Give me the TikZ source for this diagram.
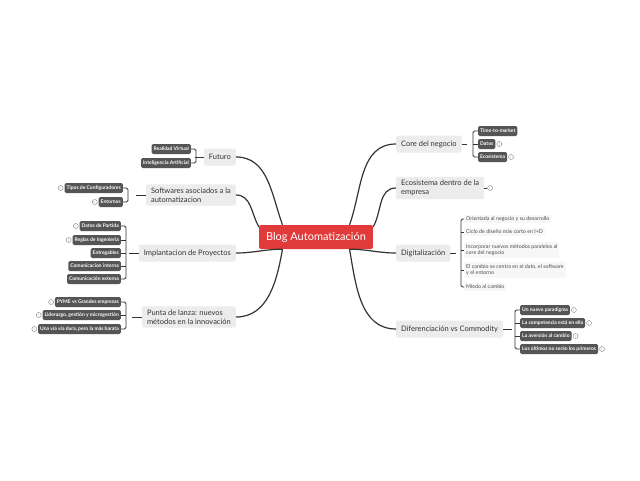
\documentclass[tikz,border=0pt]{standalone}
\usepackage{fontspec}
\setmainfont{Lato}
\usetikzlibrary{positioning}
\definecolor{redbox}{HTML}{E03A3A}
\definecolor{topicbg}{HTML}{ECECEC}
\definecolor{subbg}{HTML}{555555}
\definecolor{linec}{HTML}{333333}
\tikzset{
  central/.style={fill=redbox,text=white,rounded corners=2pt,font=\fontsize{11}{12}\selectfont,minimum height=24pt,inner xsep=7pt},
  topic/.style={fill=topicbg,rounded corners=2pt,font=\fontsize{7.5}{9}\selectfont,align=left,inner xsep=5pt,minimum height=17pt,text=black!80},
  sub/.style={fill=subbg,text=white,rounded corners=1.5pt,font=\fontsize{5}{5.5}\selectfont\bfseries,inner sep=2pt,minimum height=10pt},
  plain/.style={fill=black!3,font=\fontsize{5.3}{6.5}\selectfont,align=left,inner sep=2pt,text=black!70},
  info/.style={circle,draw=black!50,fill=white,inner sep=0pt,minimum size=5pt,font=\fontsize{3}{3}\selectfont,text=black!50},
  branch/.style={draw=linec,line width=1.2pt},
  twig/.style={draw=linec,line width=0.8pt,rounded corners=1.5pt}
}
\begin{document}
\begin{tikzpicture}[x=1pt,y=-1pt]
\useasboundingbox[fill=white] (0,0) rectangle (640,480);
% central
\node[central] (blog) at (316,237) {Blog Automatización};
% left topics
\node[topic,anchor=east] (fut) at (236,157) {Futuro};
\node[topic,anchor=east] (soft) at (236,195) {Softwares asociados a la\\automatizacion};
\node[topic,anchor=east] (impl) at (236,253) {Implantacion de Proyectos};
\node[topic,anchor=east] (punta) at (236,317) {Punta de lanza: nuevos\\métodos en la innovación};
% right topics
\node[topic,anchor=west] (core) at (396,144) {Core del negocio};
\node[topic,anchor=west] (eco) at (396,188) {Ecosistema dentro de la\\empresa};
\node[topic,anchor=west] (digi) at (396,253) {Digitalización};
\node[topic,anchor=west] (dif) at (396,329) {Diferenciación vs Commodity};
% branches
\draw[branch] (blog.160) to[out=110,in=0] (fut.east);
\draw[branch] (blog.170) to[out=120,in=0] (soft.east);
\draw[branch] (blog.200) to[out=180,in=0] (impl.east);
\draw[branch] (blog.200) to[out=-100,in=0] (punta.east);
\draw[branch] (blog.20) to[out=70,in=180] (core.west);
\draw[branch] (blog.10) to[out=60,in=180] (eco.west);
\draw[branch] (blog.-20) to[out=0,in=180] (digi.west);
\draw[branch] (blog.-20) to[out=-80,in=180] (dif.west);
% Futuro
\node[sub,anchor=east] (rv) at (191,149) {Realidad Virtual};
\node[sub,anchor=east] (ia) at (191,163) {Inteligencia Artificial};
\draw[twig] (rv.east) -- ++(5,0) |- (ia.east);
\draw[twig] (fut.west) -- ++(-9,0);
% Softwares
\node[sub,anchor=east] (tipos) at (123,188) {Tipos de Configuradores};
\node[sub,anchor=east] (ent) at (123,202) {Entornos};
\node[info,left=1pt of tipos] (i1) {i};
\node[info,left=1pt of ent] (i2) {i};
\draw[twig] (tipos.east) -- ++(5,0) |- (ent.east);
\draw[twig] (soft.west) -- ++(-10,0);
% Implantacion
\node[sub,anchor=east] (datp) at (121,226) {Datos de Partida};
\node[sub,anchor=east] (regl) at (121,240) {Reglas de Ingenieria};
\node[sub,anchor=east] (entr) at (121,253) {Entregables};
\node[sub,anchor=east] (cint) at (121,266) {Comunicacion interna};
\node[sub,anchor=east] (cext) at (121,279) {Comunicación externa};
\node[info,left=1pt of datp] (i3) {i};
\node[info,left=1pt of regl] (i4) {i};
\draw[twig] (datp.east) -- ++(5,0) |- (cext.east);
\foreach \n in {regl,entr,cint} \draw[twig] (\n.east) -- ++(5,0);
\draw[twig] (impl.west) -- ++(-10,0);
% Punta de lanza
\node[sub,anchor=east] (pyme) at (121,302) {PYME vs Grandes empresas};
\node[sub,anchor=east] (lid) at (121,315) {Liderazgo, gestión y microgestión};
\node[sub,anchor=east] (via) at (121,329) {Una vía vía dura, pero la más barata};
\node[info,left=1pt of pyme] (i5) {i};
\node[info,left=1pt of lid] (i6) {i};
\node[info,left=1pt of via] (i7) {i};
\draw[twig] (pyme.east) -- ++(5,0) |- (via.east);
\draw[twig] (lid.east) -- ++(5,0);
\draw[twig] (punta.west) -- ++(-10,0);
% Core
\node[sub,anchor=west] (ttm) at (478,131) {Time-to-market};
\node[sub,anchor=west] (dat) at (478,144) {Datos};
\node[sub,anchor=west] (ecs) at (478,157) {Ecosistema};
\node[info,right=1pt of dat] (i8) {i};
\node[info,right=1pt of ecs] (i9) {i};
\draw[twig] (ttm.west) -- ++(-5,0) |- (ecs.west);
\draw[twig] (dat.west) -- ++(-5,0);
\draw[twig] (core.east) -- ++(5,0);
% Ecosistema
\node[info,right=3pt of eco] (i10) {i};
\draw[twig] (eco.east) -- (i10);
% Digitalizacion
\node[plain,anchor=west] (d1) at (464,219) {Orientada al negocio y su desarrollo};
\node[plain,anchor=west] (d2) at (464,232) {Ciclo de diseño más corto en I+D};
\node[plain,anchor=west] (d3) at (464,250) {Incorporar nuevos métodos paralelos al\\core del negocio};
\node[plain,anchor=west] (d4) at (464,270) {El cambio se centra en el dato, el software\\y el entorno};
\node[plain,anchor=west] (d5) at (464,287) {Miedo al cambio};
\draw[twig] (d1.west) -- ++(-3,0) |- (d5.west);
\foreach \n in {d2,d3,d4} \draw[twig] (\n.west) -- ++(-3,0);
\draw[twig] (digi.east) -- ++(6,0);
% Diferenciacion
\node[sub,anchor=west] (f1) at (520,310) {Un nuevo paradigma};
\node[sub,anchor=west] (f2) at (520,323) {La competencia está en ella};
\node[sub,anchor=west] (f3) at (520,336) {La aversión al cambio};
\node[sub,anchor=west] (f4) at (520,349) {Los últimos no serán los primeros};
\foreach \n/\m in {f1/i11,f2/i12,f3/i13,f4/i14} \node[info,right=1pt of \n] (\m) {i};
\draw[twig] (f1.west) -- ++(-5,0) |- (f4.west);
\foreach \n in {f2,f3} \draw[twig] (\n.west) -- ++(-5,0);
\draw[twig] (dif.east) -- ++(9,0);
\end{tikzpicture}
\end{document}
